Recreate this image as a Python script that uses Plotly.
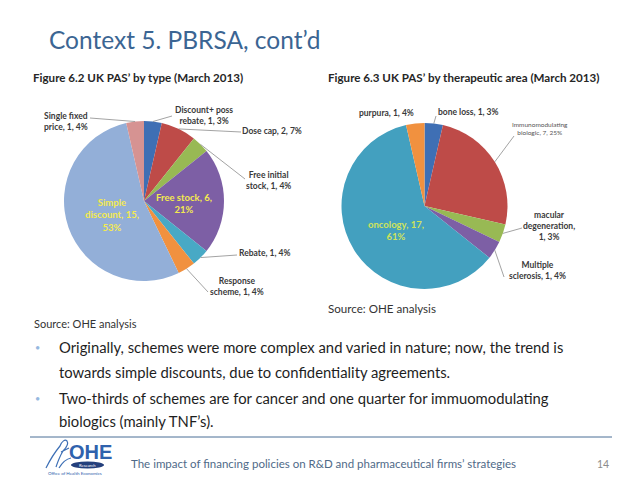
import math
import plotly.graph_objects as go

W, H = 638, 479
OFF = 8  # page body margin of the html page

# ---------------- data ----------------
type_names = ["Discount+ poss rebate", "Dose cap", "Free initial stock", "Free stock",
              "Rebate", "Response scheme", "Simple discount", "Single fixed price"]
type_counts = [1, 2, 1, 6, 1, 1, 15, 1]
type_pcts = [3, 7, 4, 21, 4, 4, 53, 4]

area_names = ["bone loss", "Immunomodulating biologic", "macular degeneration",
              "Multiple sclerosis", "oncology", "purpura"]
area_counts = [1, 7, 1, 1, 17, 1]
area_pcts = [3, 25, 3, 4, 61, 4]

title_text = "Context 5. PBRSA, cont’d"
fig1_title = "Figure 6.2 UK PAS’ by type (March 2013)"
fig2_title = "Figure 6.3 UK PAS’ by therapeutic area (March 2013)"
source_text = "Source: OHE analysis"
bullet_lines = [
    ["Originally, schemes were more complex and varied in nature; now, the trend is",
     "towards simple discounts, due to confidentiality agreements."],
    ["Two-thirds of schemes are for cancer and one quarter for immuomodulating",
     "biologics (mainly TNF’s)."],
]
footer_text = "The impact of financing policies on R&D and pharmaceutical firms’ strategies"
page_no = "14"

# ---------------- styling ----------------
type_colors = ["#3F6FB4", "#BE4B48", "#98B954", "#7D5FA5", "#48A9C5", "#F1913F", "#93AFD8", "#D69392"]
area_colors = ["#3F6FB4", "#BE4B48", "#98B954", "#7D5FA5", "#43A0BF", "#F1913F"]

FONT = "Lato"
DARK = "#333333"


def px(x):
    return (x - OFF) / W


def py(y):
    return 1 - (y - OFF) / H


def domain(cx, cy, r):
    return dict(x=[px(cx - r), px(cx + r)], y=[py(cy + r), py(cy - r)])


def label_text(name, n, p, sep1, sep2):
    return f"{name}{sep1}{n}{sep2}{p}%"


fig = go.Figure()

# pie geometry (pixels)
P1 = dict(cx=144, cy=201, r=80)
P2 = dict(cx=424.5, cy=206, r=83)

fig.add_trace(go.Pie(
    labels=type_names, values=type_counts, sort=False, direction="clockwise", rotation=0,
    marker=dict(colors=type_colors, line=dict(width=0)), textinfo="none",
    domain=domain(P1["cx"], P1["cy"], P1["r"]), showlegend=False,
    hoverinfo="label+value+percent"))
fig.add_trace(go.Pie(
    labels=area_names, values=area_counts, sort=False, direction="clockwise", rotation=0,
    marker=dict(colors=area_colors, line=dict(width=0)), textinfo="none",
    domain=domain(P2["cx"], P2["cy"], P2["r"]), showlegend=False,
    hoverinfo="label+value+percent"))

annotations = []
shapes = []


def txt(x, y, s, size, color=DARK, xanchor="center", bold=False, family=FONT, align="center"):
    if bold:
        s = f"<b>{s}</b>"
    annotations.append(dict(x=px(x), y=py(y), xref="paper", yref="paper", text=s,
                            showarrow=False, xanchor=xanchor, yanchor="middle", align=align,
                            borderpad=0,
                            font=dict(family=family, size=size, color=color)))


def mid_points(counts, P):
    tot = sum(counts)
    out = []
    c = 0
    for v in counts:
        a = 2 * math.pi * (c + v / 2) / tot
        out.append((P["cx"] + P["r"] * math.sin(a), P["cy"] - P["r"] * math.cos(a)))
        c += v
    return out


def leader(p_from, p_to):
    shapes.append(dict(type="line", xref="paper", yref="paper",
                       x0=px(p_from[0]), y0=py(p_from[1]), x1=px(p_to[0]), y1=py(p_to[1]),
                       line=dict(color="#8C8C8C", width=0.8)))


# ---- pie 1 labels ----
t_disp = ["Discount+ poss<br>rebate", "Dose cap", "Free initial<br>stock", "Free stock",
          "Rebate", "Response<br>scheme", "Simple<br>discount", "Single fixed<br>price"]
t_sep2 = [", ", ", ", ", ", ",<br>", ", ", ", ", ",<br>", ", "]
t_pos = [(204, 115), (272, 131), (268, 180), (184, 203), (264, 253), (237, 286), (112, 215), (66, 121)]
t_line_end = [(172, 116), (241, 132), (245, 179), None, (237, 255), (208, 292), None, (90, 118)]
t_inside = [False, False, False, True, False, False, True, False]
mids1 = mid_points(type_counts, P1)
for i in range(len(type_names)):
    s = label_text(t_disp[i], type_counts[i], type_pcts[i], ", ", t_sep2[i])
    if t_inside[i]:
        txt(*t_pos[i], s, 9.5, color="#F4EA4E", bold=True)
    else:
        txt(*t_pos[i], s, 8.5, color="#3A3A3A", bold=True)
    if t_line_end[i] is not None:
        leader(mids1[i], t_line_end[i])

# ---- pie 2 labels ----
a_disp = ["bone loss", "Immunomodulating<br>biologic", "macular<br>degeneration",
          "Multiple<br>sclerosis", "oncology", "purpura"]
a_sep1 = [", ", ", ", ",<br>", ", ", ", ", ", "]
a_sep2 = [", ", ", ", ", ", ", ", ",<br>", ", "]
a_pos = [(468, 112), (540, 128), (549, 226), (537, 270), (396, 230), (386, 113)]
a_line_end = [(436, 116), (514, 136), (522, 228), (504, 277), None, None]
a_size = [8.5, 6.5, 8.5, 8.5, 9.5, 8.5]
mids2 = mid_points(area_counts, P2)
for i in range(len(area_names)):
    s = label_text(a_disp[i], area_counts[i], area_pcts[i], a_sep1[i], a_sep2[i])
    if i == 4:
        txt(*a_pos[i], s, a_size[i], color="#CFE35A", bold=True)
    elif i == 1:
        txt(*a_pos[i], s, a_size[i], color="#555555")
    else:
        txt(*a_pos[i], s, a_size[i], color="#3A3A3A", bold=True)
    if a_line_end[i] is not None:
        leader(mids2[i], a_line_end[i])

# ---- headings / sources ----
txt(48, 39, title_text, 24.5, color="#3B6593", xanchor="left")
txt(32, 78, fig1_title, 11.6, color="#262626", xanchor="left", bold=True)
txt(327, 78, fig2_title, 11.6, color="#262626", xanchor="left", bold=True)
txt(327, 308, source_text, 11.6, color="#333333", xanchor="left")
txt(33, 323, source_text, 11, color="#333333", xanchor="left")

# ---- bullets ----
ys = [[347, 372], [398, 421]]
for b, lines in enumerate(bullet_lines):
    txt(37, ys[b][0], "•", 9, color="#95B8E0", xanchor="center")
    for j, line in enumerate(lines):
        txt(58, ys[b][j], line, 14.8, color="#1E1E1E", xanchor="left", align="left")

# ---- footer ----
shapes.append(dict(type="line", xref="paper", yref="paper", x0=px(30), x1=px(612),
                   y0=py(437), y1=py(437), line=dict(color="#4A6F96", width=1)))
txt(130, 463, footer_text, 11.5, color="#4F6A88", xanchor="left")
txt(603, 464, page_no, 10.5, color="#8C8C8C")

# logo (stylised)
txt(90, 452, "OHE", 20, color="#2F62AD", bold=True, family="Liberation Sans")
shapes.append(dict(type="circle", xref="paper", yref="paper", x0=px(71), x1=px(104),
                   y0=py(468.5), y1=py(461.5), fillcolor="#24407C", line=dict(width=0)))
txt(87.5, 465, "Research", 4.2, color="#FFFFFF")
txt(75, 473.5, "Office of Health Economics", 4.5, color="#2F62AD")


def path_paper(cmds):
    out = []
    for c in cmds:
        if isinstance(c, str):
            out.append(c)
        else:
            out.append(f"{px(c[0]):.5f},{py(c[1]):.5f}")
    return " ".join(out)


logo_cmds = ["M", (46, 468), "C", (50, 460), (55, 452), (60, 446),
             "C", (62, 441), (65, 439), (67, 441),
             "C", (69, 444), (66, 448), (63, 451),
             "C", (60, 456), (58, 461), (56, 467),
             "M", (59, 468), "C", (62, 463), (66, 459), (71, 458),
             "M", (61, 452), "L", (69, 448)]
shapes.append(dict(type="path", xref="paper", yref="paper", path=path_paper(logo_cmds),
                   line=dict(color="#3D6FB5", width=1.2)))

fig.update_layout(
    width=W, height=H, autosize=False,
    margin=dict(l=0, r=0, t=0, b=0),
    paper_bgcolor="white", plot_bgcolor="white",
    annotations=annotations, shapes=shapes,
    font=dict(family=FONT),
)

fig.write_html("out.html")
